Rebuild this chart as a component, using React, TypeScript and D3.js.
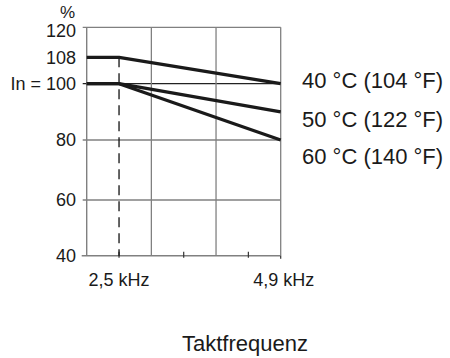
import React from "react";
import * as d3 from "d3";

const steps = [0, 1, 6];
const series40 = [108, 108, 100];
const series50 = [100, 100, 90];
const series60 = [100, 100, 80];
const seriesLabels = ["40 °C (104 °F)", "50 °C (122 °F)", "60 °C (140 °F)"];
const yTickValues = [40, 60, 80, 100, 108, 120];
const yTickLabels = ["40", "60", "80", "In = 100", "108", "120"];
const gridYValues = [60, 80, 120];
const gridXSteps = [2, 4, 6];
const minorXSteps = [1, 3, 5];
const xTickSteps = [1, 6];
const xTickLabels = ["2,5 kHz", "4,9 kHz"];
const dashStep = 1;
const dashTop = 108;
const xTitle = "Taktfrequenz";
const yUnit = "%";

const FONT = "'Liberation Sans', Arial, sans-serif";

export default function App() {
  const x = d3.scaleLinear().domain([0, 6]).range([86.7, 280.7]);
  const y = d3
    .scaleLinear()
    .domain([40, 60, 80, 100, 108, 120])
    .range([255.7, 200, 140, 83.7, 57.3, 27.3]);

  const line = d3
    .line<number>()
    .x((_, i) => x(steps[i]))
    .y((d) => y(d));

  const allSeries = [series40, series50, series60];
  const legendY = [88, 126.5, 164];
  const gridColor = "#808080";
  const textColor = "#1a1a1a";

  return (
    <svg
      width={450}
      height={358}
      style={{ position: "absolute", left: 0, top: 0, background: "#fff" }}
      fontFamily={FONT}
    >
      {/* horizontal grid lines */}
      {gridYValues.map((v) => (
        <line key={"gy" + v} x1={x(0) - 4} x2={x(6)} y1={y(v)} y2={y(v)} stroke={gridColor} strokeWidth={1.3} />
      ))}
      {/* 100 line dark */}
      <line x1={x(0) - 4} x2={x(6)} y1={y(100)} y2={y(100)} stroke="#222" strokeWidth={1.2} />
      {/* vertical grid lines */}
      {gridXSteps.map((s) => (
        <line key={"gx" + s} x1={x(s)} x2={x(s)} y1={y(120)} y2={y(40)} stroke={gridColor} strokeWidth={1.3} />
      ))}
      {/* left axis */}
      <line x1={x(0)} x2={x(0)} y1={y(120)} y2={y(40)} stroke={gridColor} strokeWidth={1.4} />
      {/* bottom axis */}
      <line x1={x(0) - 5} x2={x(6)} y1={y(40)} y2={y(40)} stroke={gridColor} strokeWidth={1.4} />
      {/* minor bottom ticks */}
      {minorXSteps.map((s) => (
        <line key={"mt" + s} x1={x(s)} x2={x(s)} y1={y(40) - 4} y2={y(40) + 2} stroke="#333" strokeWidth={1.2} />
      ))}
      <line x1={x(6)} x2={x(6)} y1={y(40)} y2={y(40) + 3} stroke="#333" strokeWidth={1.2} />
      {/* dashed line */}
      <line
        x1={x(dashStep)}
        x2={x(dashStep)}
        y1={y(dashTop)}
        y2={y(40)}
        stroke="#111"
        strokeWidth={1.3}
        strokeDasharray="10,6"
      />
      {/* series lines */}
      {allSeries.map((s, i) => (
        <path key={"s" + i} d={line(s) || ""} fill="none" stroke="#1a1a1a" strokeWidth={3.2} strokeLinejoin="round" />
      ))}
      {/* y tick labels */}
      {yTickValues.map((v, i) => (
        <text
          key={"yl" + v}
          x={76}
          y={y(v) + (v === 120 ? 3 : 0)}
          dy="0.36em"
          textAnchor="end"
          fontSize={18}
          fill={textColor}
        >
          {yTickLabels[i]}
        </text>
      ))}
      <text x={75} y={18} textAnchor="end" fontSize={17} fill={textColor}>
        {yUnit}
      </text>
      {/* x tick labels */}
      {xTickSteps.map((s, i) => (
        <text key={"xl" + s} x={x(s) + (i === 1 ? 3 : 0)} y={286} textAnchor="middle" fontSize={18} fill={textColor}>
          {xTickLabels[i]}
        </text>
      ))}
      {/* series labels */}
      {seriesLabels.map((l, i) => (
        <text key={"lg" + i} x={302} y={legendY[i]} fontSize={22} fill={textColor}>
          {l}
        </text>
      ))}
      {/* x title */}
      <text x={245} y={351} textAnchor="middle" fontSize={22} fill={textColor}>
        {xTitle}
      </text>
    </svg>
  );
}
